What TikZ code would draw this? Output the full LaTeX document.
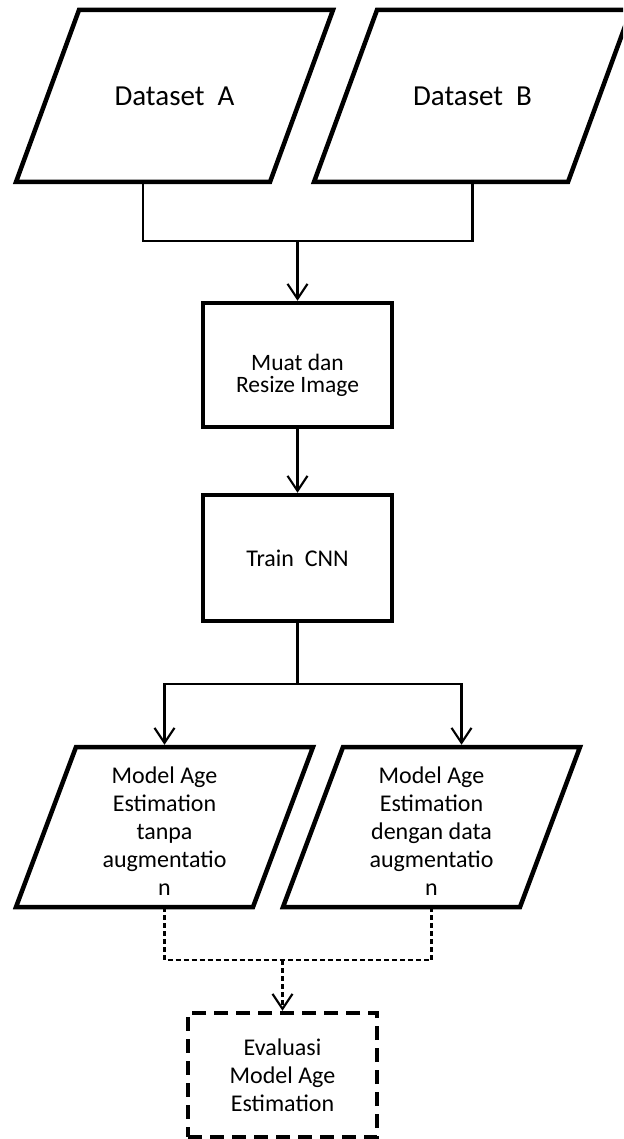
\documentclass[tikz,border=0pt]{standalone}
\usepackage{fontspec}
\setmainfont{Carlito}
\usetikzlibrary{arrows.meta,calc}

% outline of a slanted input/output block around a (borderless) node
\newcommand\slantframe[2]{%
  \draw[paraline] (#1.south west) -- ([xshift=-#2]#1.south east)
    -- (#1.north east) -- ([xshift=#2]#1.north west) -- cycle;}

\begin{document}
\begin{tikzpicture}[x=1pt,y=-1pt,
  tip/.tip={Straight Barb[length=15pt,width=20pt]},
  body/.style={font=\fontsize{24}{28}\selectfont, align=center, text=black},
  para/.style={body, rectangle, inner sep=0pt, outer sep=0pt},
  paraline/.style={draw=black, line width=4.5pt},
  proc/.style={body, rectangle, draw, line width=4.5pt, inner sep=0pt},
  evalbox/.style={proc, dash pattern=on 14pt off 8pt},
  link/.style={line width=2.1pt},
  dlink/.style={line width=2.1pt, dash pattern=on 5pt off 3pt},
]
% page
\fill[white] (0,0) rectangle (623,1139);
\useasboundingbox (0,0) rectangle (623,1139);
\clip (0,0) rectangle (623,1139);

% input datasets
\node[para, minimum width=317pt, minimum height=172pt, font=\fontsize{29}{34}\selectfont]
  (dsA) at (174.5,96) {Dataset\ \ A};
\node[para, minimum width=317pt, minimum height=172pt, font=\fontsize{29}{34}\selectfont]
  (dsB) at (472.5,96) {Dataset\ \ B};
\slantframe{dsA}{63pt}
\slantframe{dsB}{63pt}

% processing steps
\node[proc, minimum width=189pt, minimum height=124pt, font=\fontsize{23.5}{22}\selectfont]
  (muat) at (297.5,365) {\rule{0pt}{37pt}Muat dan\\Resize Image};
\node[proc, minimum width=189pt, minimum height=126pt]
  (train) at (297.5,558) {Train\ \ CNN};

% resulting models
\node[para, minimum width=297pt, minimum height=160pt]
  (mL) at (164.5,827) {\rule{0pt}{24pt}Model Age\\Estimation\\tanpa\\augmentatio\\n};
\node[para, minimum width=297pt, minimum height=160pt]
  (mR) at (431.5,827) {\rule{0pt}{24pt}Model Age\\Estimation\\dengan data\\augmentatio\\n};
\slantframe{mL}{60pt}
\slantframe{mR}{60pt}

% evaluation
\node[evalbox, minimum width=189pt, minimum height=124pt]
  (eval) at (282.5,1075) {Evaluasi\\Model Age\\Estimation};

% merge of the two datasets
\coordinate (aOut) at ($(dsA.south west)!0.5!([xshift=-63pt]dsA.south east)$);
\coordinate (j1) at (297.5,241);
\draw[link] (aOut) |- (j1) -| (dsB.south);
\draw[link,-tip] (j1) -- (muat.north);

\draw[link,-tip] (muat) -- (train);

% split into the two models
\coordinate (j2) at (297.5,684);
\coordinate (rIn) at ($([xshift=60pt]mR.north west)!0.5!(mR.north east)$);
\draw[link] (train) -- (j2);
\draw[link,-tip] (j2) -| ([yshift=2.25pt]mL.north);
\draw[link,-tip] (j2) -| ([yshift=2.25pt]rIn);

% both models go to evaluation
\coordinate (j3) at (282.5,960);
\draw[dlink] (mL.south) |- (j3);
\draw[dlink] (mR.south) |- (j3);
\draw[dlink,-tip] (j3) -- (eval.north);
\end{tikzpicture}
\end{document}
